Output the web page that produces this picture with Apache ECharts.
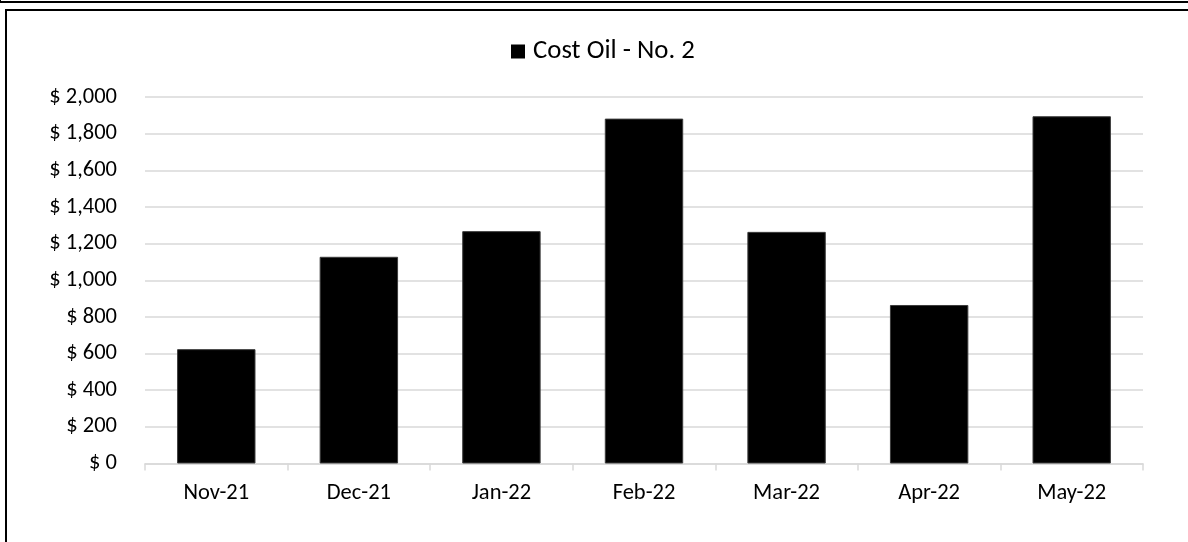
<!DOCTYPE html>
<html>
<head>
<meta charset="utf-8">
<script src="https://cdn.jsdelivr.net/npm/echarts@6/dist/echarts.min.js"></script>
<style>
  html, body { margin: 0; padding: 0; background: #fff; overflow: hidden; }
  #wrap { position: relative; width: 1188px; height: 542px; }
  #chart { position: absolute; left: 0; top: 0; width: 1188px; height: 542px; }
  .frame { position: absolute; border: 2px solid #000; box-sizing: border-box; pointer-events: none; }
</style>
</head>
<body>
<div id="wrap">
  <div class="frame" style="left:-1px; top:-200px; width:1300px; height:203px;"></div>
  <div class="frame" style="left:5px; top:9px; width:1300px; height:700px;"></div>
  <div id="chart"></div>
</div>
<script>
// Monthly No. 2 heating-oil cost
const months = ['Nov-21', 'Dec-21', 'Jan-22', 'Feb-22', 'Mar-22', 'Apr-22', 'May-22'];
const costOil = [624, 1128, 1268, 1882, 1264, 865, 1895];
const seriesName = 'Cost Oil - No. 2';

const FONT = 'Carlito, Lato, sans-serif';

function dollars(v) {
  return '$ ' + String(v).replace(/\B(?=(\d{3})+(?!\d))/g, ',');
}

const chart = echarts.init(document.getElementById('chart'), null, { renderer: 'canvas' });
chart.setOption({
  animation: false,
  backgroundColor: 'transparent',
  legend: {
    data: [seriesName],
    left: 506,
    top: 33,
    icon: 'rect',
    itemWidth: 14,
    itemHeight: 14,
    itemGap: 10,
    itemStyle: { borderWidth: 0 },
    textStyle: { fontFamily: FONT, fontSize: 26.8, color: '#000', padding: [0, 0, 0, 3] }
  },
  grid: { left: 145, right: 45, top: 97, bottom: 78.5, containLabel: false },
  xAxis: {
    type: 'category',
    data: months,
    boundaryGap: true,
    axisLine: { show: true, lineStyle: { color: '#d9d9d9', width: 1.5 } },
    axisTick: { show: true, length: 7, alignWithLabel: false, lineStyle: { color: '#d9d9d9', width: 1.5 } },
    axisLabel: { fontFamily: FONT, fontSize: 22.5, color: '#000', margin: 18 }
  },
  yAxis: {
    type: 'value',
    min: 0,
    max: 2000,
    interval: 200,
    axisLine: { show: false },
    axisTick: { show: false },
    splitLine: { lineStyle: { color: '#d9d9d9', width: 1.5 } },
    axisLabel: { fontFamily: FONT, fontSize: 22.5, color: '#000', margin: 28, formatter: dollars }
  },
  series: [{
    name: seriesName,
    type: 'bar',
    data: costOil,
    barCategoryGap: '45%',
    itemStyle: { color: '#000', borderColor: '#3c3c3c', borderWidth: 1 }
  }]
});
</script>
</body>
</html>
